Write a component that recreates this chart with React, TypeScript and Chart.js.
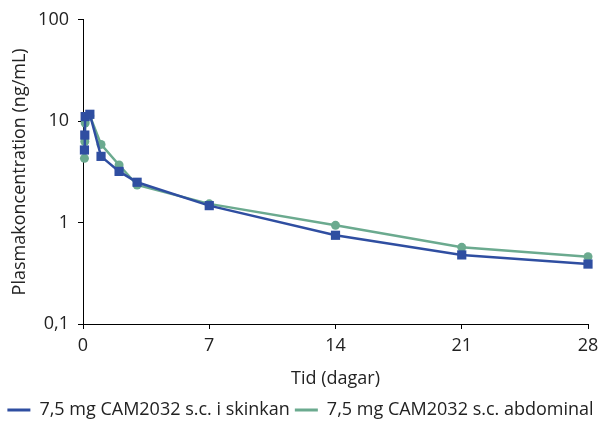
import React, { useEffect, useRef } from "react";
import { Chart, registerables } from "chart.js";

Chart.register(...registerables);

const seriesLabels = ["7,5 mg CAM2032 s.c. i skinkan", "7,5 mg CAM2032 s.c. abdominal"];
const timesBlue = [0.08, 0.1, 0.12, 0.38, 1, 2, 3, 7, 14, 21, 28];
const valuesBlue = [5.2, 7.3, 11.1, 11.7, 4.5, 3.2, 2.5, 1.47, 0.75, 0.48, 0.39];
const timesGreen = [0.08, 0.1, 0.12, 0.38, 1, 2, 3, 7, 14, 21, 28];
const valuesGreen = [4.3, 6.3, 9.6, 11.3, 5.9, 3.7, 2.35, 1.53, 0.94, 0.57, 0.46];
const yTicks = [0.1, 1, 10, 100];
const xTicks = [0, 7, 14, 21, 28];

const BLUE = "#2F4EA1";
const GREEN = "#6BAA8F";
const TEXT = "#222";
const FONT = "'Open Sans', sans-serif";
const FS = 18;

export default function App() {
  const ref = useRef<HTMLCanvasElement>(null);
  useEffect(() => {
    document.body.style.margin = "0";
    const ctx = ref.current!;
    const chart = new Chart(ctx, {
      type: "line",
      data: {
        datasets: [
          {
            label: seriesLabels[0],
            data: timesBlue.map((t, i) => ({ x: t, y: valuesBlue[i] })),
            borderColor: BLUE,
            backgroundColor: BLUE,
            borderWidth: 2.5,
            pointStyle: "rect",
            pointRadius: 6.5,
            pointBorderWidth: 0,
            tension: 0,
            clip: false,
          },
          {
            label: seriesLabels[1],
            data: timesGreen.map((t, i) => ({ x: t, y: valuesGreen[i] })),
            borderColor: GREEN,
            backgroundColor: GREEN,
            borderWidth: 2.5,
            pointStyle: "circle",
            pointRadius: 4.5,
            pointBorderWidth: 0,
            tension: 0,
            clip: false,
          },
        ],
      },
      options: {
        animation: false,
        responsive: false,
        layout: { padding: { top: 16, right: 0, left: 0, bottom: -8 } },
        plugins: {
          tooltip: { enabled: false },
          legend: {
            position: "bottom",
            labels: {
              font: { family: FONT, size: FS },
              color: TEXT,
              boxWidth: 23,
              boxHeight: 3,
              padding: 5,
              generateLabels: (c: any) =>
                c.data.datasets.map((d: any, i: number) => ({
                  text: d.label,
                  fillStyle: d.borderColor,
                  strokeStyle: d.borderColor,
                  lineWidth: 0,
                  hidden: false,
                  datasetIndex: i,
                  fontColor: TEXT,
                })),
            },
          },
        },
        scales: {
          x: {
            type: "linear",
            min: 0,
            max: 28,
            afterBuildTicks: (s: any) => {
              s.ticks = xTicks.map((v) => ({ value: v }));
            },
            afterFit: (s: any) => {
              s.height = 72;
              s.paddingRight = 13;
            },
            ticks: {
              font: { family: FONT, size: FS },
              color: TEXT,
              padding: 6,
              maxRotation: 0,
            },
            grid: { drawOnChartArea: false, drawTicks: true, tickLength: 5, color: "#000" },
            border: { display: true, color: "#000", width: 1 },
            title: {
              display: true,
              text: "Tid (dagar)",
              font: { family: FONT, size: FS },
              color: TEXT,
              padding: { top: 0, bottom: 6 },
            },
          },
          y: {
            type: "logarithmic",
            min: 0.1,
            max: 100,
            afterBuildTicks: (s: any) => {
              s.ticks = yTicks.map((v) => ({ value: v }));
            },
            afterFit: (s: any) => {
              s.width = 83;
            },
            ticks: {
              font: { family: FONT, size: FS },
              color: TEXT,
              padding: 9,
              callback: (v: any) => String(v).replace(".", ","),
            },
            grid: { drawOnChartArea: false, drawTicks: true, tickLength: 5, color: "#000" },
            border: { display: true, color: "#000", width: 1 },
            title: {
              display: true,
              text: "Plasmakoncentration (ng/mL)",
              font: { family: FONT, size: FS },
              color: TEXT,
              padding: { top: 9, bottom: 0 },
            },
          },
        },
      },
    } as any);
    return () => chart.destroy();
  }, []);
  return (
    <div style={{ width: 601, height: 421, position: "relative" }}>
      <canvas ref={ref} width={601} height={421} style={{ display: "block" }} />
    </div>
  );
}
